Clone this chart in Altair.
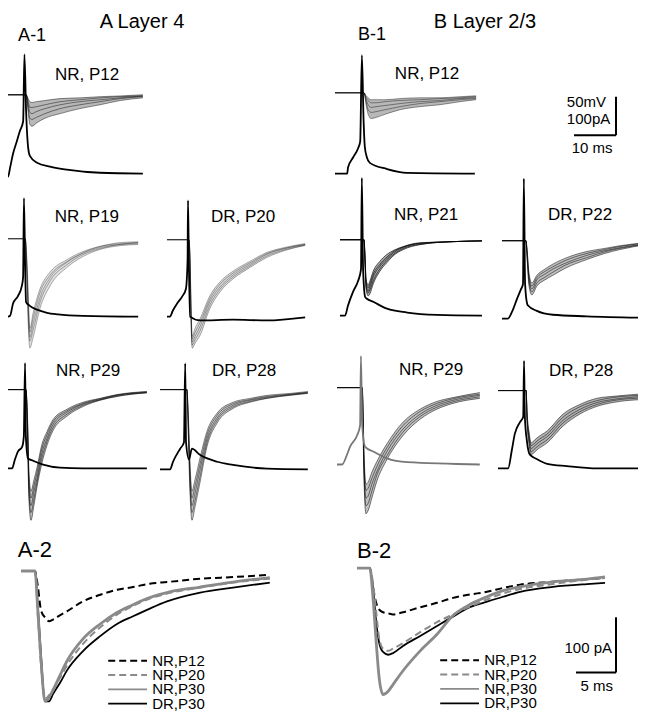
import altair as alt
import pandas as pd

# ------------------------------------------------------------------
# DATA
# rows 1-3 : time in ms, presynaptic voltage in mV above rest,
#            EPSC sweeps in pA (5 representative sweeps per panel)
# ------------------------------------------------------------------
# A-1  NR, P12 (layer 4)
A1_TV = [0, 1.2, 1.7, 2.4, 3.3, 4.0, 4.8, 5.1, 5.5, 6.0, 6.4, 8.1, 11.2, 15.2, 23.1, 33.3]
A1_V = [0, 0, 12, 30, 46, 59, 72, 159, 85, 37, 27, 18, 13, 9, 5, 4]
A1_TI = [0, 5.5, 6.0, 6.4, 6.9, 7.9, 10.0, 13.6, 18.3, 23.1, 27.9, 33.3]
A1_I = [
    [0, 0, -46, -77, -82, -74, -61, -49, -36, -26, -15, -8],
    [0, 0, -36, -61, -64, -59, -49, -36, -26, -18, -10, -5],
    [0, 0, -26, -46, -49, -44, -36, -26, -18, -13, -8, -3],
    [0, 0, -18, -33, -33, -31, -26, -18, -13, -8, -5, -3],
    [0, 0, -10, -18, -20, -18, -15, -10, -8, -5, -3, 0],
]
# B-1  NR, P12 (layer 2/3)
B1_TV = [0, 2.9, 3.1, 4.3, 5.5, 6.0, 6.4, 6.8, 7.1, 7.6, 8.3, 12.4, 17.1, 33.3]
B1_V = [0, 0, 8, 21, 33, 42, 154, 70, 35, 21, 14, 6, 1, 0]
B1_TI = [0, 6.9, 7.4, 7.9, 8.6, 9.8, 11.9, 15.5, 20.2, 25.0, 29.8, 33.6]
B1_I = [
    [0, 0, -31, -56, -67, -64, -56, -44, -36, -31, -23, -18],
    [0, 0, -23, -44, -51, -49, -44, -36, -28, -23, -18, -15],
    [0, 0, -18, -31, -38, -36, -33, -28, -23, -20, -15, -13],
    [0, 0, -13, -20, -26, -26, -23, -20, -18, -15, -13, -10],
    [0, 0, -8, -13, -18, -18, -18, -15, -13, -13, -10, -8],
]
# NR, P19 (layer 4)
NR19_TV = [0, 1.9, 2.4, 3.1, 4.3, 5.2, 5.5, 5.7, 6.0, 6.2, 7.1, 8.8, 11.2, 13.8, 19.8, 32.9]
NR19_V = [0, 0, 1, 17, 27, 40, 51, 154, 62, 19, 14, 9, 5, 3, 1, 0]
NR19_TI = [0, 6.0, 6.4, 6.8, 7.1, 7.9, 9.5, 11.9, 16.0, 19.8, 23.8, 28.6, 32.9]
NR19_I = [
    [0, 0, -102, -243, -284, -256, -182, -123, -74, -46, -28, -18, -15],
    [0, 0, -90, -225, -266, -236, -166, -110, -67, -41, -26, -15, -13],
    [0, 0, -77, -205, -256, -220, -154, -102, -61, -38, -23, -15, -10],
    [0, 0, -64, -184, -243, -205, -141, -95, -59, -36, -20, -13, -10],
    [0, 0, -51, -166, -233, -192, -131, -87, -54, -33, -20, -10, -8],
]
# DR, P20 (layer 4)
DR20_TV = [0, 0.7, 1.4, 2.4, 3.6, 4.5, 4.9, 5.0, 5.2, 5.5, 7.9, 15.7, 23.8, 32.9]
DR20_V = [0, 0, 8, 17, 26, 36, 74, 151, 74, 0, -5, -4, -5, -1]
DR20_TI = [0, 5.2, 5.5, 5.7, 6.0, 6.7, 7.9, 10.2, 12.6, 15.7, 19.8, 23.8, 28.1, 32.9]
DR20_I = [
    [0, 0, -77, -205, -282, -269, -248, -179, -136, -102, -72, -46, -28, -15],
    [0, 0, -70, -192, -274, -260, -236, -170, -129, -97, -68, -42, -26, -14],
    [0, 0, -64, -179, -266, -251, -225, -161, -123, -92, -64, -38, -23, -13],
    [0, 0, -58, -166, -258, -241, -215, -154, -116, -87, -60, -36, -22, -12],
    [0, 0, -51, -154, -251, -230, -205, -146, -110, -82, -56, -33, -20, -10],
]
# NR, P21 (layer 2/3)
NR21_TV = [0, 1.2, 1.9, 3.1, 4.3, 5.0, 5.2, 5.5, 6.0, 6.4, 7.9, 11.2, 16.0, 23.1, 33.8]
NR21_V = [0, 0, 13, 31, 45, 60, 179, 60, 24, 22, 18, 9, 4, 1, 0]
NR21_TI = [0, 5.7, 6.0, 6.2, 6.7, 7.1, 7.9, 9.5, 11.2, 13.1, 15.0, 19.0, 26.9, 33.8]
NR21_I = [
    [0, 0, -77, -128, -146, -141, -115, -82, -59, -38, -26, -13, -5, -3],
    [0, 0, -70, -122, -138, -131, -107, -76, -54, -35, -23, -12, -5, -3],
    [0, 0, -64, -115, -133, -123, -97, -69, -49, -31, -20, -10, -5, -3],
    [0, 0, -58, -108, -125, -115, -90, -64, -45, -28, -19, -9, -5, -3],
    [0, 0, -51, -102, -118, -108, -82, -56, -38, -26, -18, -8, -5, -3],
]
# DR, P22 (layer 2/3)
DR22_TV = [0, 1.4, 2.4, 3.6, 4.5, 5.0, 5.2, 5.5, 6.0, 6.2, 8.3, 12.1, 20.2, 34.3]
DR22_V = [0, 0, 9, 26, 38, 45, 182, 45, 19, 17, 10, 5, 3, 1]
DR22_TI = [0, 5.7, 6.0, 6.4, 7.1, 8.3, 10.2, 12.1, 15.0, 20.2, 24.5, 28.1, 34.3]
DR22_I = [
    [0, 0, -51, -115, -141, -118, -102, -90, -72, -49, -33, -23, -10],
    [0, 0, -45, -106, -133, -110, -95, -82, -64, -44, -29, -20, -9],
    [0, 0, -38, -97, -125, -102, -87, -74, -59, -38, -26, -18, -8],
    [0, 0, -32, -90, -118, -96, -80, -68, -52, -33, -23, -15, -6],
    [0, 0, -26, -82, -110, -90, -74, -61, -46, -28, -20, -13, -5],
]
# NR, P29 (layer 4)
NR29A_TV = [0, 1.2, 1.9, 2.6, 3.6, 4.0, 4.3, 4.5, 5.0, 6.2, 8.6, 12.6, 18.1, 33.3]
NR29A_V = [0, 0, 12, 22, 28, 41, 137, 41, 13, 10, 5, 1, 0, 0]
NR29A_TI = [0, 4.5, 4.9, 5.2, 5.7, 6.4, 7.1, 8.3, 9.5, 10.9, 14.3, 18.1, 22.1, 26.2, 33.3]
NR29A_I = [
    [0, 0, -128, -282, -340, -302, -256, -192, -146, -108, -69, -44, -28, -18, -8],
    [0, 0, -115, -262, -320, -285, -244, -179, -136, -100, -64, -41, -27, -17, -8],
    [0, 0, -102, -243, -302, -266, -233, -166, -128, -92, -59, -38, -26, -15, -8],
    [0, 0, -90, -225, -282, -251, -218, -154, -118, -85, -55, -36, -24, -14, -6],
    [0, 0, -77, -205, -264, -236, -205, -143, -110, -79, -51, -33, -23, -13, -5],
]
# DR, P28 (layer 4)
DR28A_TV = [0, 2.4, 3.1, 4.8, 5.7, 6.0, 6.2, 6.9, 7.6, 9.5, 13.6, 17.4, 25.5, 35.2]
DR28A_V = [0, 0, 10, 27, 35, 138, 35, 13, 27, 19, 10, 6, 1, 0]
DR28A_TI = [0, 6.4, 6.7, 7.1, 7.6, 8.3, 9.5, 11.2, 13.6, 17.4, 21.4, 25.5, 31.0, 35.2]
DR28A_I = [
    [0, 0, -102, -256, -340, -307, -243, -148, -87, -49, -33, -23, -15, -10],
    [0, 0, -90, -236, -320, -290, -228, -138, -80, -45, -31, -22, -14, -9],
    [0, 0, -77, -218, -302, -271, -210, -128, -74, -41, -28, -20, -13, -8],
    [0, 0, -64, -198, -282, -253, -195, -118, -67, -37, -26, -18, -12, -7],
    [0, 0, -51, -179, -264, -236, -179, -108, -61, -33, -23, -15, -10, -5],
]
# NR, P29 (layer 2/3)
NR29B_TV = [0, 1.2, 2.4, 3.1, 4.8, 5.5, 5.7, 6.0, 6.7, 8.6, 11.9, 16.7, 34.0]
NR29B_V = [0, 0, 13, 23, 38, 51, 141, 51, 23, 17, 8, 3, 0]
NR29B_TI = [0, 6.0, 6.2, 6.4, 6.9, 7.4, 8.3, 9.5, 11.9, 15.7, 19.8, 23.8, 27.6, 34.0]
NR29B_I = [
    [0, 0, -102, -230, -328, -320, -287, -243, -187, -125, -82, -56, -41, -28],
    [0, 0, -90, -211, -307, -301, -269, -227, -177, -116, -75, -51, -37, -24],
    [0, 0, -77, -192, -287, -282, -251, -218, -166, -108, -69, -46, -33, -20],
    [0, 0, -64, -172, -267, -262, -236, -205, -156, -99, -62, -41, -29, -17],
    [0, 0, -51, -154, -251, -246, -220, -192, -146, -90, -56, -36, -26, -13],
]
# DR, P28 (layer 2/3)
DR28B_TV = [0, 2.4, 3.3, 4.0, 5.2, 6.0, 6.2, 6.4, 6.9, 7.6, 9.3, 11.7, 16.4, 23.6, 35.0]
DR28B_V = [0, 0, 24, 45, 60, 67, 140, 67, 35, 18, 12, 6, 3, 0, 0]
DR28B_TI = [0, 6.7, 6.9, 7.4, 7.9, 8.3, 9.3, 11.7, 15.5, 19.5, 23.6, 27.4, 35.0]
DR28B_I = [
    [0, 0, -77, -141, -166, -164, -154, -136, -92, -61, -41, -31, -23],
    [0, 0, -70, -132, -159, -156, -146, -128, -84, -55, -36, -26, -19],
    [0, 0, -64, -123, -151, -148, -138, -120, -77, -49, -31, -23, -15],
    [0, 0, -58, -115, -143, -141, -131, -113, -69, -42, -26, -18, -12],
    [0, 0, -51, -108, -136, -133, -123, -105, -61, -36, -20, -15, -8],
]

# row 4 : averaged EPSCs (ms, pA)
SERIES = ["NR,P12", "NR,P20", "NR,P30", "DR,P30"]
A2_T = [0, 1.75, 2.1, 2.5, 3.0, 3.5, 4.0, 4.9, 5.75, 7.75, 9.9, 12.0, 14.0, 16.1, 18.25, 22.4, 26.5, 31.1]
A2_NR12 = [0, 0, -27, -71, -84, -91, -88, -80, -73, -55, -43, -34, -29, -23, -20, -14, -11, -7]
A2_NR20 = [0, 0, -80, -170, -232, -225, -214, -193, -171, -132, -102, -79, -63, -50, -41, -30, -21, -14]
A2_NR30 = [0, 0, -71, -161, -236, -229, -216, -188, -163, -123, -96, -75, -61, -48, -39, -29, -20, -12]
A2_DR30 = [0, 0, -63, -152, -236, -236, -223, -202, -180, -145, -118, -96, -82, -68, -55, -39, -30, -21]
B2_T = [0, 1.6, 2.0, 2.4, 2.75, 3.25, 3.9, 4.5, 5.75, 7.9, 10.0, 12.0, 14.1, 16.25, 18.25, 20.4, 24.5, 28.75, 31.0]
B2_NR12 = [0, 0, -36, -63, -75, -80, -82, -84, -80, -71, -63, -54, -48, -43, -36, -30, -25, -20, -18]
B2_NR20 = [0, 0, -27, -80, -125, -146, -150, -146, -136, -116, -98, -84, -70, -57, -46, -38, -29, -21, -18]
B2_NR30 = [0, 0, -54, -134, -196, -229, -223, -211, -186, -150, -120, -86, -66, -52, -41, -34, -25, -20, -16]
B2_DR30 = [0, 0, -36, -98, -134, -152, -157, -154, -141, -123, -105, -88, -71, -61, -52, -43, -34, -29, -27]

# scale bars
BAR1_MS, BAR1_PA, BAR1_TXT = 10, 100, ["50mV", "100pA", "10 ms"]
BAR2_MS, BAR2_PA, BAR2_TXT = 5, 100, ["100 pA", "5 ms"]

# ------------------------------------------------------------------
# LAYOUT
# ------------------------------------------------------------------
W, H = 630, 703
FONT = "Liberation Sans"
PX_MS, PX_PA, PX_MV = 4.2, 0.39, 0.78     # rows 1-3
PX_MS2, PX_PA2 = 8.0, 0.56                # row 4


def X(px):
    return px - 8


def Y(py):
    return (py - 5) * 0.986


def sx(x0, ppm):
    return alt.Scale(domain=[0, 40], range=[X(x0), X(x0 + 40 * ppm)], nice=False, zero=False)


def sy(y0, ppu, lo=-600, hi=300):
    return alt.Scale(domain=[lo, hi], range=[Y(y0 - lo * ppu), Y(y0 - hi * ppu)], nice=False, zero=False)


def xy(xsc, ysc, yf="v"):
    return dict(x=alt.X("t:Q", scale=xsc, axis=None), y=alt.Y(f"{yf}:Q", scale=ysc, axis=None))


def text_layer(xsc, ysc, t, v, txt, size, align="center", color="black"):
    df = pd.DataFrame({"t": [t], "v": [v], "txt": [txt]})
    return alt.Chart(df).mark_text(font=FONT, fontSize=size, align=align, baseline="middle",
                                   color=color).encode(text="txt:N", **xy(xsc, ysc))


PANELS = [
    # label, TV, V, TI, I, x0, yc, yv, label pos (ms, pA), sweep opacity, area opacity, V colour
    ("NR, P12", A1_TV, A1_V, A1_TI, A1_I, 3, 93, 176, (20.0, 51), 0.45, 0.28, "black"),
    ("NR, P12", B1_TV, B1_V, B1_TI, B1_I, 335, 91, 173, (21.9, 49), 0.40, 0.28, "black"),
    ("NR, P19", NR19_TV, NR19_V, NR19_TI, NR19_I, 0, 239, 318, (20.7, 56), 0.30, 0.12, "black"),
    ("DR, P20", DR20_TV, DR20_V, DR20_TI, DR20_I, 167, 240, 318, (18.1, 59), 0.32, 0.14, "black"),
    ("NR, P21", NR21_TV, NR21_V, NR21_TI, NR21_I, 340, 240, 317, (20.5, 64), 0.60, 0.35, "black"),
    ("DR, P22", DR22_TV, DR22_V, DR22_TI, DR22_I, 502, 241, 320, (18.6, 67), 0.50, 0.25, "black"),
    ("NR, P29", NR29A_TV, NR29A_V, NR29A_TI, NR29A_I, 7, 392, 472, (19.3, 49), 0.50, 0.25, "black"),
    ("DR, P28", DR28A_TV, DR28A_V, DR28A_TI, DR28A_I, 160, 392, 473, (20.0, 49), 0.45, 0.22, "black"),
    ("NR, P29", NR29B_TV, NR29B_V, NR29B_TI, NR29B_I, 337, 390, 468, (22.4, 46), 0.50, 0.25, "#777777"),
    ("DR, P28", DR28B_TV, DR28B_V, DR28B_TI, DR28B_I, 498, 393, 472, (19.8, 51), 0.50, 0.30, "black"),
]

layers = []
for (lab, tv, vv, ti, ii, x0, yc, yv, lpos, op, aop, vcol) in PANELS:
    xsc = sx(x0, PX_MS)
    ysi = sy(yc, PX_PA)
    ysv = sy(yv, PX_MV, -100, 250)
    dfa = pd.DataFrame({"t": ti, "lo": ii[0], "hi": ii[-1]})
    layers.append(alt.Chart(dfa).mark_area(color="black", opacity=aop, interpolate="monotone").encode(
        x=alt.X("t:Q", scale=xsc, axis=None), y=alt.Y("lo:Q", scale=ysi, axis=None), y2="hi:Q"))
    rows = []
    for k, sweep in enumerate(ii):
        for t, v in zip(ti, sweep, strict=True):
            rows.append({"t": t, "v": v, "sweep": k})
    layers.append(alt.Chart(pd.DataFrame(rows)).mark_line(
        color="black", strokeWidth=1, opacity=op, interpolate="monotone").encode(
        detail="sweep:N", **xy(xsc, ysi)))
    dfv = pd.DataFrame([{"t": t, "v": v} for t, v in zip(tv, vv, strict=True)])
    layers.append(alt.Chart(dfv).mark_line(color=vcol, strokeWidth=1.8, interpolate="monotone").encode(
        **xy(xsc, ysv)))
    layers.append(text_layer(xsc, ysi, lpos[0], lpos[1], lab, 17))

# titles and panel letters (placed in the A-1 / B-1 frames)
xa1, ya1 = sx(3, PX_MS), sy(93, PX_PA)
xb1, yb1 = sx(335, PX_MS), sy(91, PX_PA)
layers.append(text_layer(xa1, ya1, 33.1, 190, "A  Layer 4", 20))
layers.append(text_layer(xb1, yb1, 35.7, 185, "B  Layer 2/3", 20))
layers.append(text_layer(xa1, ya1, 3.6, 154, "A-1", 18, align="left"))
layers.append(text_layer(xb1, yb1, 5.5, 149, "B-1", 18, align="left"))

# scale bar 1 (corner at the bottom-right)
xs1, ys1 = sx(616, PX_MS), sy(134, PX_PA)
bar1 = pd.DataFrame({"t": [-BAR1_MS, 0], "t2": [0, 0], "v": [0, 0], "v2": [0, BAR1_PA]})
layers.append(alt.Chart(bar1).mark_rule(color="black", strokeWidth=2).encode(
    x2="t2:Q", y2="v2:Q", **xy(xs1, ys1)))
layers.append(text_layer(xs1, ys1, -11.7, 87, BAR1_TXT[0], 15, align="left"))
layers.append(text_layer(xs1, ys1, -11.7, 41, BAR1_TXT[1], 15, align="left"))
layers.append(text_layer(xs1, ys1, -5.7, -33, BAR1_TXT[2], 15))

# row 4 : averaged traces + legends
STYLE = {
    "NR,P12": dict(color="black", strokeWidth=2, strokeDash=[7, 4]),
    "NR,P20": dict(color="#8a8a8a", strokeWidth=2, strokeDash=[7, 4]),
    "NR,P30": dict(color="#8a8a8a", strokeWidth=2.8),
    "DR,P30": dict(color="black", strokeWidth=1.8),
}
DRAW_ORDER = ["NR,P12", "DR,P30", "NR,P20", "NR,P30"]
AVG = [
    ("A-2", 21, 576, A2_T, dict(zip(SERIES, [A2_NR12, A2_NR20, A2_NR30, A2_DR30])),
     [-162.5, -188.4, -214.3, -240.2], (10.9, 15.75, 16.4), (-0.4, 37.5)),
    ("B-2", 357, 573, B2_T, dict(zip(SERIES, [B2_NR12, B2_NR20, B2_NR30, B2_DR30])),
     [-167, -193, -219, -245], (10.4, 15.25, 15.9), (0.0, 30)),
]
for (name, x0, yc, tt, series, leg_v, leg_t, name_pos) in AVG:
    xsc = sx(x0, PX_MS2)
    ysc = sy(yc, PX_PA2, -400, 200)
    for s in DRAW_ORDER:
        df = pd.DataFrame([{"t": t, "v": v} for t, v in zip(tt, series[s], strict=True)])
        layers.append(alt.Chart(df).mark_line(interpolate="monotone", **STYLE[s]).encode(**xy(xsc, ysc)))
    for s, lv in zip(SERIES, leg_v):
        st = dict(STYLE[s])
        if s == "NR,P30":
            st["strokeWidth"] = 1.8
        dfl = pd.DataFrame({"t": [leg_t[0]], "t2": [leg_t[1]], "v": [lv]})
        layers.append(alt.Chart(dfl).mark_rule(**st).encode(x2="t2:Q", **xy(xsc, ysc)))
        layers.append(text_layer(xsc, ysc, leg_t[2], lv, s, 15, align="left"))
    layers.append(text_layer(xsc, ysc, name_pos[0], name_pos[1], name, 22, align="left"))

# scale bar 2
xs2, ys2 = sx(616, PX_MS2), sy(679, PX_PA2, -400, 200)
bar2 = pd.DataFrame({"t": [-BAR2_MS, 0], "t2": [0, 0], "v": [0, 0], "v2": [0, BAR2_PA]})
layers.append(alt.Chart(bar2).mark_rule(color="black", strokeWidth=2).encode(
    x2="t2:Q", y2="v2:Q", **xy(xs2, ys2)))
layers.append(text_layer(xs2, ys2, -0.5, 45, BAR2_TXT[0], 15, align="right"))
layers.append(text_layer(xs2, ys2, -2.4, -25, BAR2_TXT[1], 15))

chart = alt.layer(*layers).resolve_scale(x="independent", y="independent").properties(
    width=W, height=H, autosize=alt.AutoSizeParams(type="none"), padding=0
).configure_view(stroke=None)

chart.save("out.html", embed_options={"renderer": "svg", "actions": False})
